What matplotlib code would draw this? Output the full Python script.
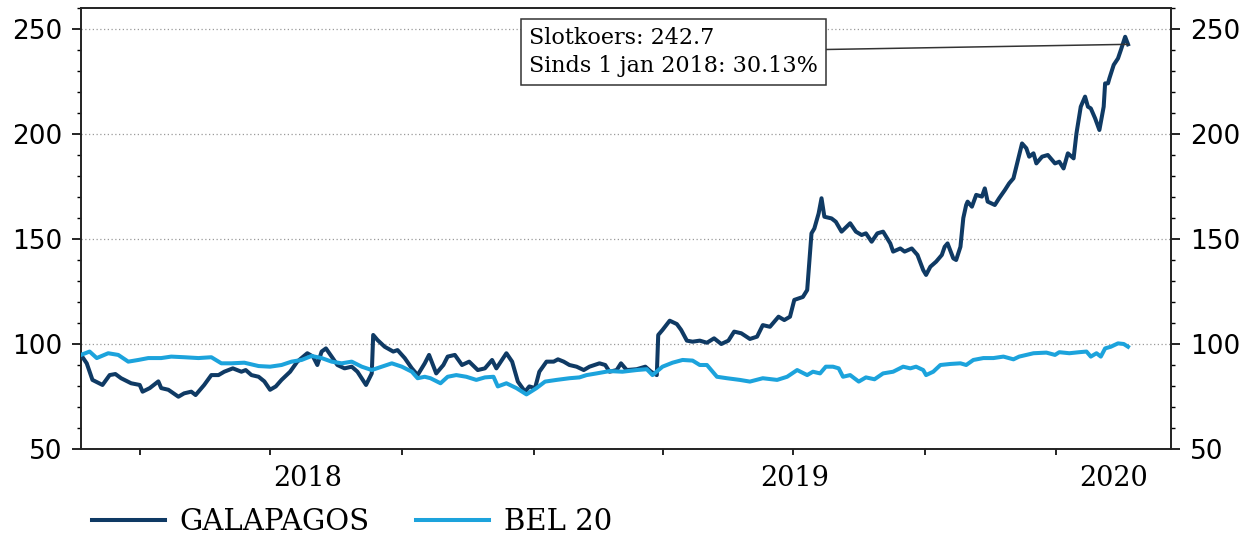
"""Galapagos vs BEL 20 (rebased) over two years, with closing-price callout."""

import matplotlib
matplotlib.use("Agg")
import matplotlib.pyplot as plt
import matplotlib.dates as mdates
from matplotlib.ticker import MultipleLocator
from matplotlib.transforms import blended_transform_factory
import pandas as pd

# --- data ------------------------------------------------------------------
glpg_dates = [
    "2018-02-19", "2018-02-23", "2018-02-27", "2018-03-06", "2018-03-11", "2018-03-15",
    "2018-03-19", "2018-03-26", "2018-04-01", "2018-04-03", "2018-04-08", "2018-04-14",
    "2018-04-16", "2018-04-21", "2018-04-28", "2018-05-02", "2018-05-07", "2018-05-10",
    "2018-05-16", "2018-05-21", "2018-05-26", "2018-05-30", "2018-06-05", "2018-06-11",
    "2018-06-14", "2018-06-18", "2018-06-23", "2018-06-27", "2018-07-01", "2018-07-05",
    "2018-07-09", "2018-07-15", "2018-07-20", "2018-07-27", "2018-07-31", "2018-08-03",
    "2018-08-06", "2018-08-09", "2018-08-13", "2018-08-17", "2018-08-22", "2018-08-27",
    "2018-08-31", "2018-09-06", "2018-09-10", "2018-09-11", "2018-09-14", "2018-09-19",
    "2018-09-25", "2018-09-28", "2018-10-03", "2018-10-08", "2018-10-12", "2018-10-17",
    "2018-10-20", "2018-10-25", "2018-10-30", "2018-11-02", "2018-11-07", "2018-11-12",
    "2018-11-17", "2018-11-23", "2018-11-28", "2018-12-03", "2018-12-06", "2018-12-13",
    "2018-12-17", "2018-12-21", "2018-12-26", "2018-12-29", "2019-01-02", "2019-01-05",
    "2019-01-10", "2019-01-15", "2019-01-18", "2019-01-22", "2019-01-26", "2019-01-31",
    "2019-02-05", "2019-02-09", "2019-02-16", "2019-02-20", "2019-02-23", "2019-02-28",
    "2019-03-03", "2019-03-07", "2019-03-14", "2019-03-20", "2019-03-24", "2019-03-28",
    "2019-03-29", "2019-04-01", "2019-04-06", "2019-04-11", "2019-04-14", "2019-04-18",
    "2019-04-22", "2019-04-27", "2019-05-02", "2019-05-07", "2019-05-12", "2019-05-17",
    "2019-05-21", "2019-05-26", "2019-06-01", "2019-06-06", "2019-06-10", "2019-06-15",
    "2019-06-21", "2019-06-25", "2019-06-29", "2019-07-02", "2019-07-08", "2019-07-11",
    "2019-07-14", "2019-07-16", "2019-07-19", "2019-07-21", "2019-07-23", "2019-07-28",
    "2019-07-31", "2019-08-04", "2019-08-10", "2019-08-14", "2019-08-18", "2019-08-21",
    "2019-08-25", "2019-08-29", "2019-09-02", "2019-09-07", "2019-09-09", "2019-09-14",
    "2019-09-17", "2019-09-22", "2019-09-26", "2019-09-30", "2019-10-02", "2019-10-05",
    "2019-10-09", "2019-10-13", "2019-10-15", "2019-10-17", "2019-10-21", "2019-10-23",
    "2019-10-26", "2019-10-28", "2019-10-30", "2019-10-31", "2019-11-03", "2019-11-06",
    "2019-11-10", "2019-11-12", "2019-11-14", "2019-11-19", "2019-11-22", "2019-11-26",
    "2019-11-29", "2019-12-02", "2019-12-04", "2019-12-08", "2019-12-11", "2019-12-13",
    "2019-12-16", "2019-12-18", "2019-12-22", "2019-12-26", "2019-12-31", "2020-01-03",
    "2020-01-06", "2020-01-09", "2020-01-13", "2020-01-15", "2020-01-18", "2020-01-21",
    "2020-01-23", "2020-01-25", "2020-01-28", "2020-01-31", "2020-02-03", "2020-02-04",
    "2020-02-06", "2020-02-07", "2020-02-10", "2020-02-13", "2020-02-15", "2020-02-18",
    "2020-02-20",
]
glpg_values = [
    94.8, 90.8, 82.9, 80.5, 85.2, 85.7, 83.7, 81.3, 80.5, 77.3, 79.0, 82.2,
    79.0, 78.2, 74.9, 76.5, 77.3, 75.7, 80.5, 85.2, 85.2, 86.8, 88.4, 86.8,
    87.6, 85.2, 84.4, 82.2, 78.2, 79.8, 82.9, 86.8, 91.6, 95.6, 94.0, 90.0,
    96.4, 97.9, 94.0, 90.0, 88.4, 89.2, 86.8, 80.5, 86.0, 104.3, 101.9, 98.7,
    96.4, 97.1, 93.3, 88.4, 85.2, 90.8, 94.8, 86.0, 90.0, 94.0, 94.8, 90.0,
    91.6, 87.6, 88.4, 92.4, 88.4, 95.6, 91.6, 82.1, 77.3, 79.8, 79.0, 86.8,
    91.6, 91.6, 92.7, 91.6, 90.0, 89.2, 87.6, 89.2, 90.8, 90.0, 86.8, 87.6,
    90.8, 87.6, 88.0, 89.2, 86.8, 85.2, 104.3, 106.7, 111.1, 109.5, 106.7, 101.6,
    101.1, 101.6, 100.6, 102.7, 100.0, 101.6, 105.9, 105.1, 102.4, 103.5, 109.0, 108.2,
    113.0, 111.4, 113.0, 121.0, 122.4, 125.7, 152.7, 155.0, 162.2, 169.4, 160.6, 159.8,
    158.2, 153.5, 157.5, 153.5, 151.9, 152.7, 148.7, 152.7, 153.5, 147.9, 144.0, 145.5,
    144.0, 145.5, 142.4, 135.2, 132.9, 136.8, 139.2, 142.4, 146.3, 147.9, 140.8, 140.0,
    146.3, 160.0, 166.2, 167.8, 165.4, 171.0, 170.2, 174.1, 167.8, 166.2, 169.4, 173.3,
    176.5, 178.9, 184.4, 195.5, 193.2, 189.2, 190.8, 186.0, 189.2, 190.0, 186.0, 186.8,
    183.6, 190.8, 188.4, 200.3, 213.0, 217.8, 213.0, 212.2, 207.5, 201.9, 213.0, 224.1,
    224.1, 226.5, 232.9, 236.0, 240.0, 246.3, 242.7,
]

bel_dates = [
    "2018-02-19", "2018-02-25", "2018-03-02", "2018-03-10", "2018-03-17", "2018-03-24",
    "2018-03-31", "2018-04-07", "2018-04-16", "2018-04-23", "2018-05-02", "2018-05-12",
    "2018-05-21", "2018-05-28", "2018-06-04", "2018-06-13", "2018-06-23", "2018-07-01",
    "2018-07-09", "2018-07-16", "2018-07-23", "2018-07-30", "2018-08-06", "2018-08-13",
    "2018-08-20", "2018-08-27", "2018-09-03", "2018-09-10", "2018-09-17", "2018-09-24",
    "2018-10-01", "2018-10-08", "2018-10-12", "2018-10-17", "2018-10-21", "2018-10-28",
    "2018-11-02", "2018-11-08", "2018-11-15", "2018-11-22", "2018-11-28", "2018-12-04",
    "2018-12-07", "2018-12-13", "2018-12-20", "2018-12-27", "2019-01-03", "2019-01-09",
    "2019-01-17", "2019-01-26", "2019-02-02", "2019-02-07", "2019-02-14", "2019-02-23",
    "2019-03-04", "2019-03-14", "2019-03-21", "2019-03-25", "2019-04-01", "2019-04-08",
    "2019-04-15", "2019-04-22", "2019-04-27", "2019-05-02", "2019-05-09", "2019-05-16",
    "2019-05-25", "2019-06-01", "2019-06-10", "2019-06-20", "2019-06-27", "2019-07-04",
    "2019-07-11", "2019-07-15", "2019-07-20", "2019-07-24", "2019-07-29", "2019-08-02",
    "2019-08-05", "2019-08-10", "2019-08-16", "2019-08-21", "2019-08-27", "2019-09-02",
    "2019-09-09", "2019-09-16", "2019-09-21", "2019-09-25", "2019-09-30", "2019-10-02",
    "2019-10-07", "2019-10-12", "2019-10-19", "2019-10-26", "2019-10-30", "2019-11-04",
    "2019-11-11", "2019-11-18", "2019-11-25", "2019-12-02", "2019-12-06", "2019-12-16",
    "2019-12-25", "2019-12-31", "2020-01-03", "2020-01-10", "2020-01-17", "2020-01-22",
    "2020-01-25", "2020-01-29", "2020-02-01", "2020-02-04", "2020-02-08", "2020-02-13",
    "2020-02-17", "2020-02-20",
]
bel_values = [
    94.8, 96.4, 93.3, 95.6, 94.8, 91.6, 92.4, 93.3, 93.3, 94.0, 93.7, 93.3,
    93.7, 90.8, 90.8, 91.1, 89.5, 89.2, 90.0, 91.6, 92.4, 94.3, 93.3, 91.6,
    90.8, 91.6, 89.2, 87.6, 89.2, 90.8, 89.2, 86.8, 83.7, 84.4, 83.7, 81.3,
    84.4, 85.2, 84.4, 82.9, 84.1, 84.4, 79.8, 81.3, 79.0, 76.0, 79.0, 82.1,
    82.9, 83.7, 84.1, 85.2, 86.0, 87.1, 86.8, 87.6, 88.0, 85.2, 89.2, 91.1,
    92.4, 92.1, 90.0, 90.0, 84.4, 83.7, 82.9, 82.1, 83.7, 82.9, 84.4, 87.6,
    85.2, 86.8, 86.0, 89.2, 89.2, 88.4, 84.4, 85.2, 82.1, 84.1, 83.2, 86.0,
    86.8, 89.2, 88.4, 89.2, 87.6, 85.2, 86.8, 90.0, 90.5, 90.8, 90.0, 92.4,
    93.3, 93.3, 94.0, 92.7, 94.0, 95.6, 95.9, 94.8, 96.1, 95.6, 96.1, 96.4,
    94.0, 95.6, 94.0, 97.9, 98.7, 100.3, 100.0, 98.7,
]

year_labels = ["2018", "2019", "2020"]
callout_lines = ["Slotkoers: 242.7", "Sinds 1 jan 2018: 30.13%"]

X_START, X_END = pd.Timestamp("2018-02-19"), pd.Timestamp("2020-03-21")
NAVY = "#0f3a64"
LIGHT = "#1ca3dc"
SERIF = "DejaVu Serif"


def main() -> None:
    g_x = pd.to_datetime(glpg_dates)
    b_x = pd.to_datetime(bel_dates)

    fig = plt.figure(figsize=(12.58, 5.38), dpi=100)
    ax = fig.add_axes([81 / 1258, 1 - 449 / 538, 1090 / 1258, 441 / 538])

    ax.plot(g_x, glpg_values, color=NAVY, lw=2.9, label="GALAPAGOS",
            solid_joinstyle="round", zorder=3)
    ax.plot(b_x, bel_values, color=LIGHT, lw=2.9, label="BEL 20",
            solid_joinstyle="round", zorder=4)

    ax.set_xlim(X_START, X_END)
    ax.set_ylim(50, 260)

    # y axis: labels both sides, minor ticks every 10
    ax.yaxis.set_major_locator(MultipleLocator(50))
    ax.yaxis.set_minor_locator(MultipleLocator(10))
    ax.tick_params(axis="y", which="both", direction="out", left=True, right=True,
                   labelleft=True, labelright=True, labelsize=19, color="black")
    ax.tick_params(axis="y", which="major", length=6.5, width=1.2, pad=7)
    ax.tick_params(axis="y", which="minor", length=3, width=1.0)
    for lab in ax.get_yticklabels():
        lab.set_fontfamily("DejaVu Sans")
    ax.grid(axis="y", which="major", linestyle=(0, (1, 2)), color="#9a9a9a", lw=0.9)

    # x axis: quarterly ticks, year names centred on the visible part of each year
    ax.xaxis.set_major_locator(mdates.MonthLocator(bymonth=[1, 4, 7, 10]))
    ax.xaxis.set_major_formatter(plt.NullFormatter())
    ax.tick_params(axis="x", which="major", direction="out", length=4.5, width=1.2)
    trans = blended_transform_factory(ax.transData, ax.transAxes)
    for yr in year_labels:
        lo = max(pd.Timestamp(f"{yr}-01-01"), X_START)
        hi = min(pd.Timestamp(f"{int(yr) + 1}-01-01"), X_END)
        mid = lo + (hi - lo) / 2
        ax.text(mdates.date2num(mid), -0.068, yr, transform=trans, ha="center",
                va="center", fontsize=19.5, family=SERIF)

    for side in ("left", "right", "top", "bottom"):
        ax.spines[side].set_linewidth(1.4)
        ax.spines[side].set_color("#222222")

    # closing price callout
    ax.annotate("\n".join(callout_lines),
                xy=(g_x[-1], glpg_values[-1]), xycoords="data",
                xytext=(0.411, 0.900), textcoords="axes fraction",
                ha="left", va="center", fontsize=16, family=SERIF,
                linespacing=1.35,
                bbox=dict(boxstyle="square,pad=0.35", fc="white", ec="#333333", lw=1.1),
                arrowprops=dict(arrowstyle="-", color="#333333", lw=1.1,
                                shrinkA=0, shrinkB=0),
                zorder=5)

    fig.legend(loc="center left", bbox_to_anchor=(92 / 1258, 1 - 522 / 538),
               ncol=2, frameon=False, prop={"family": SERIF, "size": 21},
               handlelength=2.5, handletextpad=0.5, columnspacing=1.6,
               borderaxespad=0, borderpad=0)

    fig.savefig("out.png", dpi=100)
    plt.close(fig)


if __name__ == "__main__":
    main()
